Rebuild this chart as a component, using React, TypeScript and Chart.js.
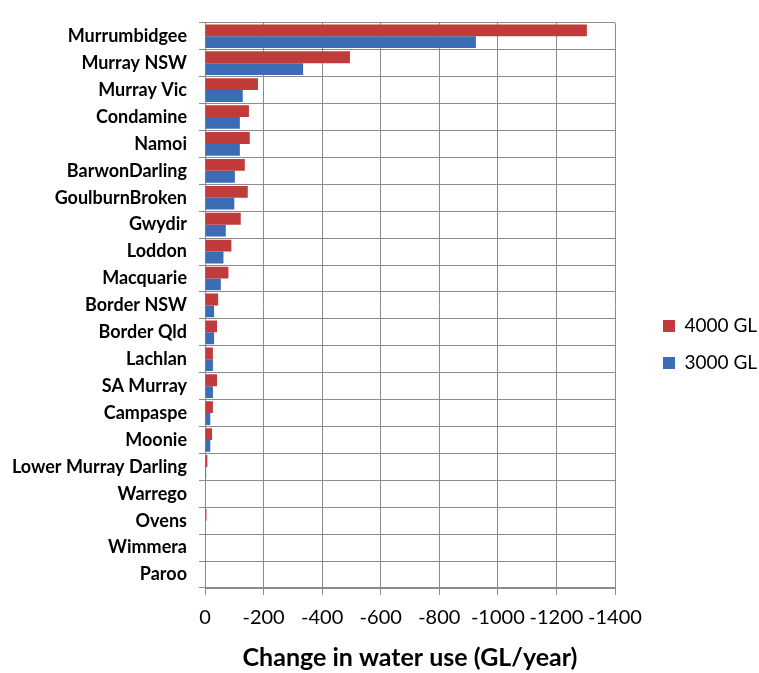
import React, { useEffect, useRef } from "react";
import { Chart, registerables } from "chart.js";

Chart.register(...registerables);

const categories = [
  "Murrumbidgee", "Murray NSW", "Murray Vic", "Condamine", "Namoi", "BarwonDarling",
  "GoulburnBroken", "Gwydir", "Loddon", "Macquarie", "Border NSW", "Border Qld",
  "Lachlan", "SA Murray", "Campaspe", "Moonie", "Lower Murray Darling", "Warrego",
  "Ovens", "Wimmera", "Paroo",
];

const series4000 = [
  -1304, -495, -181, -150, -153, -136, -146, -122, -90, -80, -45, -41,
  -27, -41, -27, -24, -8, 0, -5, 0, 0,
];

const series3000 = [
  -925, -335, -129, -119, -119, -102, -100, -71, -63, -54, -31, -31,
  -27, -27, -18, -18, -4, 0, 0, 0, 0,
];

const xTicks = [0, -200, -400, -600, -800, -1000, -1200, -1400];

const seriesNames = ["4000 GL", "3000 GL"];
const seriesColors = ["#C23B3B", "#3B6CB5"];

const FONT = "Lato, 'Open Sans', sans-serif";
const GRID = "#8c8c8c";

export default function App() {
  const ref = useRef<HTMLCanvasElement>(null);

  useEffect(() => {
    if (!ref.current) return;
    const chart = new Chart(ref.current, {
      type: "bar",
      data: {
        labels: categories,
        datasets: [
          {
            label: seriesNames[0],
            data: series4000,
            backgroundColor: seriesColors[0],
            categoryPercentage: 0.88,
            barPercentage: 1.0,
          },
          {
            label: seriesNames[1],
            data: series3000,
            backgroundColor: seriesColors[1],
            categoryPercentage: 0.88,
            barPercentage: 1.0,
          },
        ],
      },
      options: {
        indexAxis: "y",
        animation: false,
        responsive: true,
        maintainAspectRatio: false,
        layout: { padding: { top: 16, right: 0, bottom: 0, left: 0 } },
        plugins: {
          tooltip: { enabled: false },
          legend: {
            position: "right",
            maxWidth: 114,
            labels: {
              boxWidth: 12,
              boxHeight: 12,
              padding: 18,
              color: "#000",
              font: { family: FONT, size: 19 },
            },
          },
        },
        scales: {
          x: {
            type: "linear",
            reverse: true,
            min: -1400,
            max: 0,
            afterBuildTicks: (axis: any) => {
              axis.ticks = xTicks.map((v) => ({ value: v }));
            },
            afterFit: (axis: any) => {
              axis.height = 85;
            },
            ticks: {
              color: "#000",
              font: { family: FONT, size: 20 },
              padding: 11,
              maxRotation: 0,
              minRotation: 0,
              autoSkip: false,
              callback: (v: any) => String(v),
            },
            grid: { color: GRID, tickLength: 7, lineWidth: 1 },
            border: { color: GRID },
            title: {
              display: true,
              text: "Change in water use (GL/year)",
              color: "#000",
              font: { family: FONT, size: 25, weight: "bold" },
              padding: { top: 0, bottom: 0 },
            },
          },
          y: {
            type: "category",
            afterFit: (axis: any) => {
              axis.width = 205;
            },
            ticks: {
              color: "#000",
              font: { family: FONT, size: 18, weight: "bold" },
              padding: 12,
              autoSkip: false,
            },
            grid: { color: GRID, tickLength: 6, lineWidth: 1 },
            border: { color: GRID },
          },
          spacer: {
            type: "category",
            position: "right",
            axis: "y",
            display: true,
            grid: { display: false },
            border: { display: false },
            ticks: { display: false },
            afterFit: (axis: any) => {
              axis.width = 30;
            },
          },
        },
      } as any,
    });
    return () => chart.destroy();
  }, []);

  return (
    <div style={{ position: "absolute", left: 0, top: 0, width: 759, height: 673 }}>
      <canvas ref={ref} />
    </div>
  );
}
